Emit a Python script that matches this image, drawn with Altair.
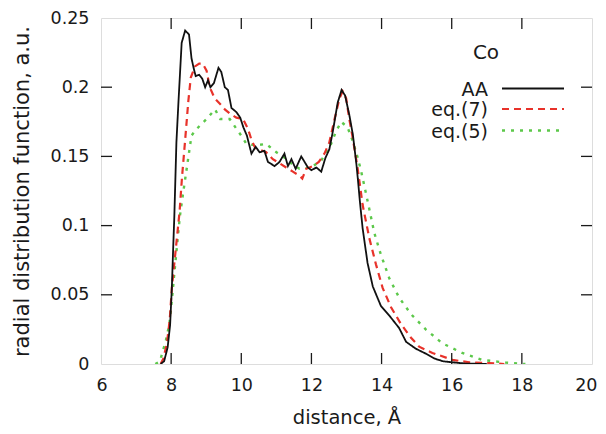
import altair as alt
import pandas as pd

# ---- data ----
aa_x = [7.70, 7.80, 7.90, 7.97, 8.02, 8.06, 8.09, 8.15, 8.21, 8.30, 8.40, 8.51, 8.58, 8.64, 8.70,
        8.80, 8.89, 8.97, 9.05, 9.12, 9.22, 9.35, 9.43, 9.53, 9.62, 9.72, 9.86, 9.97, 10.06, 10.16,
        10.29, 10.41, 10.52, 10.66, 10.76, 10.95, 11.09, 11.23, 11.33, 11.43, 11.55, 11.71, 11.90,
        12.00, 12.14, 12.28, 12.40, 12.51, 12.61, 12.75, 12.86, 12.96, 13.08, 13.18, 13.28, 13.33,
        13.38, 13.46, 13.60, 13.75, 13.98, 14.22, 14.50, 14.70, 14.98, 15.26, 15.50, 15.75, 16.02,
        16.40, 17.00]
aa_y = [0.000, 0.002, 0.012, 0.028, 0.055, 0.085, 0.106, 0.160, 0.190, 0.232, 0.241, 0.238, 0.221,
        0.214, 0.208, 0.209, 0.206, 0.200, 0.205, 0.200, 0.203, 0.214, 0.211, 0.200, 0.198, 0.185,
        0.182, 0.178, 0.171, 0.165, 0.152, 0.157, 0.153, 0.154, 0.146, 0.143, 0.146, 0.152, 0.143,
        0.148, 0.141, 0.150, 0.142, 0.140, 0.142, 0.139, 0.149, 0.155, 0.168, 0.189, 0.198, 0.194,
        0.180, 0.166, 0.145, 0.132, 0.118, 0.098, 0.073, 0.056, 0.042, 0.035, 0.026, 0.016, 0.011,
        0.0075, 0.004, 0.002, 0.0012, 0.0003, 0.0]

eq7_x = [7.70, 7.78, 7.88, 7.96, 8.02, 8.10, 8.18, 8.24, 8.31, 8.40, 8.49, 8.56, 8.68, 8.80, 8.90,
         9.01, 9.10, 9.24, 9.39, 9.53, 9.67, 9.86, 10.05, 10.19, 10.29, 10.40, 10.52, 10.71, 10.90,
         11.09, 11.28, 11.47, 11.66, 11.74, 11.85, 12.04, 12.21, 12.37, 12.51, 12.66, 12.80, 12.89,
         12.99, 13.08, 13.18, 13.32, 13.46, 13.65, 13.84, 14.03, 14.27, 14.55, 14.84, 15.07, 15.45,
         16.02, 16.50, 17.06, 17.50]
eq7_y = [0.0, 0.004, 0.015, 0.032, 0.055, 0.075, 0.095, 0.110, 0.135, 0.162, 0.190, 0.207, 0.215,
         0.217, 0.217, 0.212, 0.200, 0.192, 0.188, 0.184, 0.181, 0.178, 0.177, 0.170, 0.162, 0.156,
         0.155, 0.153, 0.148, 0.145, 0.142, 0.139, 0.136, 0.134, 0.141, 0.143, 0.146, 0.152, 0.160,
         0.177, 0.192, 0.197, 0.192, 0.177, 0.163, 0.141, 0.115, 0.091, 0.072, 0.055, 0.041, 0.029,
         0.019, 0.0125, 0.008, 0.003, 0.0012, 0.0006, 0.0]

eq5_x = [7.55, 7.68, 7.85, 7.95, 8.02, 8.10, 8.25, 8.35, 8.46, 8.58, 8.70, 8.81, 9.01, 9.25, 9.40,
         9.67, 9.86, 10.00, 10.15, 10.41, 10.71, 11.00, 11.19, 11.47, 11.66, 11.99, 12.28, 12.56,
         12.70, 12.85, 13.03, 13.18, 13.32, 13.42, 13.54, 13.65, 13.79, 13.98, 14.22, 14.50, 14.84,
         15.26, 15.73, 16.30, 16.87, 17.54, 18.10]
eq5_y = [0.0, 0.002, 0.017, 0.029, 0.046, 0.068, 0.107, 0.125, 0.144, 0.165, 0.169, 0.172, 0.177,
         0.184, 0.177, 0.177, 0.170, 0.165, 0.159, 0.158, 0.159, 0.153, 0.150, 0.144, 0.141, 0.142,
         0.147, 0.159, 0.168, 0.175, 0.171, 0.161, 0.149, 0.139, 0.125, 0.112, 0.095, 0.079, 0.062,
         0.048, 0.036, 0.025, 0.015, 0.008, 0.003, 0.001, 0.0]

x_ticks = [6, 8, 10, 12, 14, 16, 18, 20]
y_ticks = [0, 0.05, 0.1, 0.15, 0.2, 0.25]
inner_x_ticks = [8, 10, 12, 14, 16, 18]
inner_y_ticks = [0.05, 0.1, 0.15, 0.2]

legend_title = "Co"
series_names = ["AA", "eq.(7)", "eq.(5)"]
series_colors = ["#111111", "#e8322a", "#5cc84a"]
series_dash = [[1, 0], [7, 5], [3, 6]]
series_width = [1.8, 2.2, 2.4]

W, H = 491, 346
FONT = "DejaVu Sans"
TXT = "#1a1a1a"

xs = alt.Scale(domain=[6, 20], nice=False, zero=False)
ys = alt.Scale(domain=[0, 0.25], nice=False)

x_axis = alt.Axis(values=x_ticks, title="distance, Å", ticks=False, domain=False, grid=False,
                  labelPadding=12, titlePadding=15, labelFontSize=17.5, titleFontSize=19.5,
                  labelFont=FONT, titleFont=FONT, labelColor=TXT, titleColor=TXT,
                  titleFontWeight="normal", labelFlush=True, labelFlushOffset=5)
y_axis = alt.Axis(values=y_ticks, title="radial distribution function, a.u.", ticks=False,
                  domain=False, grid=False, format="~g", labelPadding=12, titlePadding=18,
                  labelFontSize=17.5, titleFontSize=21, labelFont=FONT, titleFont=FONT,
                  labelColor=TXT, titleColor=TXT, titleFontWeight="normal", labelFlush=False)

X = lambda f: alt.X(f, scale=xs, axis=x_axis)
Y = lambda f: alt.Y(f, scale=ys, axis=y_axis)

series_data = [(aa_x, aa_y), (eq7_x, eq7_y), (eq5_x, eq5_y)]

layers = []
# draw green first, then red, then black on top
for i in [2, 1, 0]:
    sx, sy = series_data[i]
    df = pd.DataFrame({"x": sx, "y": sy})
    layers.append(
        alt.Chart(df).mark_line(color=series_colors[i], strokeDash=series_dash[i],
                                strokeWidth=series_width[i], clip=True).encode(
            x=X("x:Q"), y=Y("y:Q"))
    )

# inward ticks on all four sides
xt = pd.DataFrame({"x": inner_x_ticks})
yt = pd.DataFrame({"y": inner_y_ticks})
tick_style = dict(color=TXT, strokeWidth=1.3)
layers.append(alt.Chart(xt).mark_rule(**tick_style).encode(
    x=X("x:Q"), y=alt.value(H), y2=alt.value(H - 11)))
layers.append(alt.Chart(xt).mark_rule(**tick_style).encode(
    x=X("x:Q"), y=alt.value(0), y2=alt.value(11)))
layers.append(alt.Chart(yt).mark_rule(**tick_style).encode(
    y=Y("y:Q"), x=alt.value(0), x2=alt.value(11)))
layers.append(alt.Chart(yt).mark_rule(**tick_style).encode(
    y=Y("y:Q"), x=alt.value(W), x2=alt.value(W - 11)))

# manual legend (labels to the left of the line samples)
LEG_FS = 19
leg_title_df = pd.DataFrame({"label": [legend_title]})
layers.append(alt.Chart(leg_title_df).mark_text(font=FONT, fontSize=20, color=TXT,
                                                align="center", baseline="middle").encode(
    text="label:N", x=alt.value(385), y=alt.value(35)))
row_y = [70.5, 91, 112.5]
for i, name in enumerate(series_names):
    ldf = pd.DataFrame({"label": [name]})
    layers.append(alt.Chart(ldf).mark_text(font=FONT, fontSize=LEG_FS, color=TXT,
                                           align="right", baseline="middle").encode(
        text="label:N", x=alt.value(387), y=alt.value(row_y[i] + 1)))
    layers.append(alt.Chart(ldf).mark_rule(color=series_colors[i], strokeDash=series_dash[i],
                                           strokeWidth=series_width[i]).encode(
        x=alt.value(401), x2=alt.value(463), y=alt.value(row_y[i])))

chart = alt.layer(*layers).properties(
    width=W, height=H,
    autosize=alt.AutoSizeParams(type="none"),
    padding={"left": 93, "top": 10, "right": 6, "bottom": 66},
).configure_view(stroke=TXT, strokeWidth=1.5).configure(background="white")

chart.save("out.html", embed_options={"renderer": "svg", "actions": False})
